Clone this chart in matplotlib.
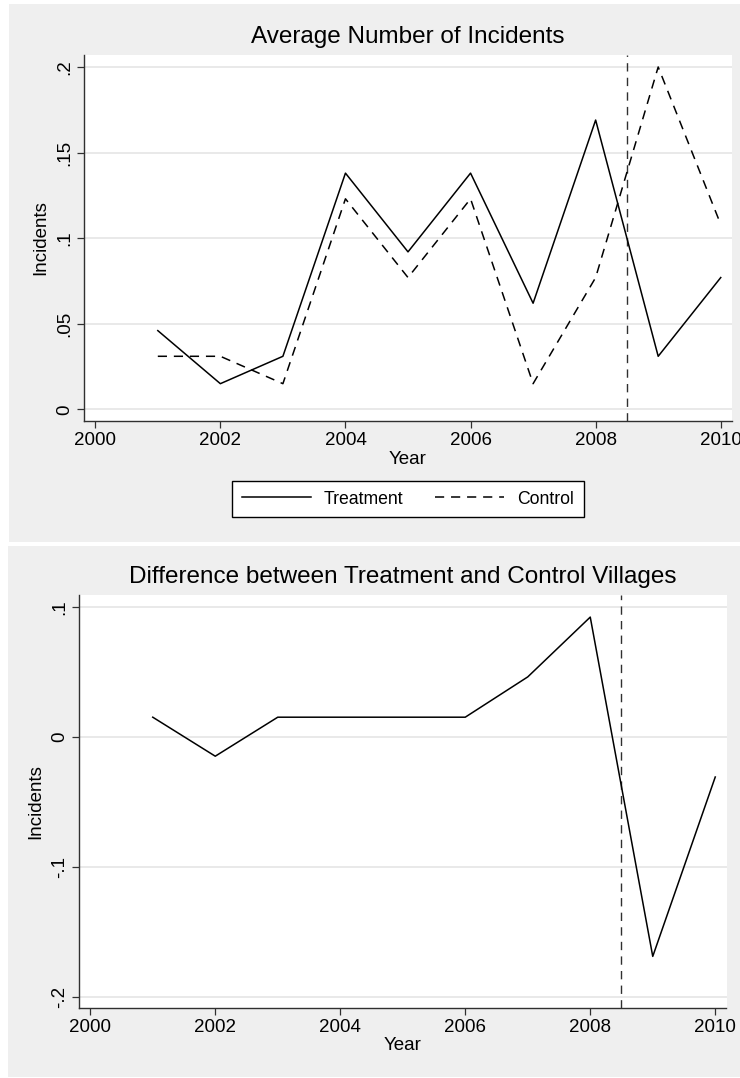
import matplotlib
matplotlib.use("Agg")
import matplotlib.pyplot as plt
from matplotlib.patches import Rectangle

plt.rcParams['font.family'] = ['Liberation Sans', 'DejaVu Sans']

# data
years = [2001, 2002, 2003, 2004, 2005, 2006, 2007, 2008, 2009, 2010]
treatment = [0.046, 0.015, 0.031, 0.138, 0.092, 0.138, 0.062, 0.169, 0.031, 0.077]
control = [0.031, 0.031, 0.015, 0.123, 0.077, 0.123, 0.015, 0.077, 0.200, 0.108]
difference = [0.015, -0.015, 0.015, 0.015, 0.015, 0.015, 0.046, 0.092, -0.169, -0.031]
cutoff = 2008.5
xticks = [2000, 2002, 2004, 2006, 2008, 2010]
yticks1 = [0, 0.05, 0.1, 0.15, 0.2]
ylabels1 = ['0', '.05', '.1', '.15', '.2']
yticks2 = [-0.2, -0.1, 0, 0.1]
ylabels2 = ['-.2', '-.1', '0', '.1']

W, H = 740, 1078
fig = plt.figure(figsize=(W / 100, H / 100), dpi=100)
fig.patch.set_facecolor('white')

bg = '#efefef'
grid_c = '#e9e9e9'
axis_c = '#303030'
dash = (0, (6, 4.5))


def box(x0, y0, x1, y1):
    # pixel box (top-left origin) -> figure fraction
    return [x0 / W, 1 - y1 / H, (x1 - x0) / W, (y1 - y0) / H]


# gray panel backgrounds
for x0, y0, x1, y1 in [(9, 4, 740, 542), (8, 546, 740, 1077)]:
    b = box(x0, y0, x1, y1)
    fig.patches.append(Rectangle((b[0], b[1]), b[2], b[3], transform=fig.transFigure,
                                 facecolor=bg, edgecolor='none', zorder=-5))

ax1 = fig.add_axes(box(84, 55, 732, 421))
ax2 = fig.add_axes(box(79, 595, 726.5, 1008))


def style(ax, yt, yl, ylim, title):
    ax.set_facecolor('white')
    ax.set_xlim(1999.82, 2010.18)
    ax.set_ylim(*ylim)
    ax.set_xticks(xticks)
    ax.set_yticks(yt)
    ax.set_yticklabels(yl, rotation=90, va='center')
    ax.grid(axis='y', color=grid_c, linewidth=1.4)
    ax.set_axisbelow(True)
    for s in ['top', 'right']:
        ax.spines[s].set_visible(False)
    for s in ['left', 'bottom']:
        ax.spines[s].set_color(axis_c)
        ax.spines[s].set_linewidth(1.0)
    ax.tick_params(length=5, width=0.9, color=axis_c, labelsize=13.5, pad=3)
    ax.set_xlabel('Year', fontsize=13.5, labelpad=1)
    ax.set_ylabel('Incidents', fontsize=13.5, labelpad=4.5)
    ax.set_title(title, fontsize=17.5, pad=8.5)
    ax.axvline(cutoff, color=axis_c, linewidth=1.0, linestyle=dash)


style(ax1, yticks1, ylabels1, (-0.0068, 0.207), 'Average Number of Incidents')
ax1.plot(years, treatment, color='black', linewidth=1.1, label='Treatment')
ax1.plot(years, control, color='black', linewidth=1.1, linestyle=dash, label='Control')

style(ax2, yticks2, ylabels2, (-0.2087, 0.109), 'Difference between Treatment and Control Villages')
ax2.plot(years, difference, color='black', linewidth=1.1)

leg = fig.legend(*ax1.get_legend_handles_labels(), loc='center',
                 bbox_to_anchor=(408 / W, 1 - 499 / H), ncol=2, fontsize=12.7,
                 frameon=True, fancybox=False, framealpha=1, handlelength=3.9,
                 handletextpad=0.75, columnspacing=1.8, borderpad=0.55, borderaxespad=0)
leg.get_frame().set_edgecolor('black')
leg.get_frame().set_linewidth(1.0)
leg.get_frame().set_facecolor('white')

fig.savefig('out.png', dpi=100)
